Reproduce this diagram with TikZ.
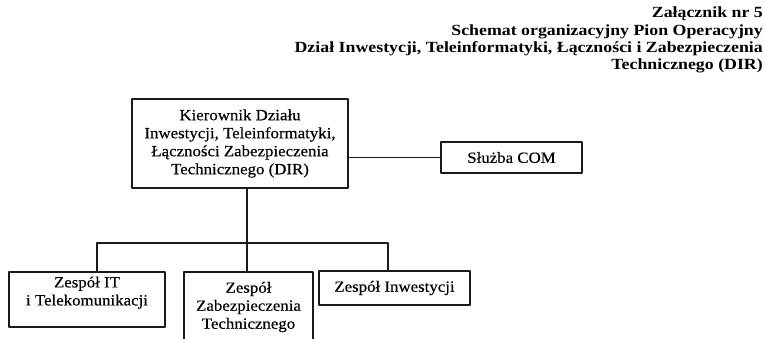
\documentclass[tikz,border=0pt]{standalone}
\usepackage{fontspec}
\setmainfont{Liberation Serif}
\newfontfamily\boxfont[FakeBold=0.3,FakeStretch=1.08]{Liberation Serif}
\newfontfamily\headfont[FakeStretch=1.15]{Liberation Serif}
\usetikzlibrary{calc,positioning}
\definecolor{border}{HTML}{1A1A1A}
\tikzset{
  UnitBox/.style={
    draw=border, line width=1.5pt,
    align=center, inner sep=2pt,
    font=\boxfont\fontsize{15.6}{18}\selectfont
  },
  OrgLine/.style={draw=border, line width=1.2pt}
}

\begin{document}
\begin{tikzpicture}[x=1pt, y=-1pt, line cap=round, line join=round]
  \useasboundingbox (0,0) rectangle (765,338);

  % header, right aligned
  \node[anchor=north east, align=right, inner sep=0pt,
        font=\headfont\bfseries\fontsize{15.5}{17.3}\selectfont] (title) at (763,7)
    {Załącznik nr 5\\ Schemat organizacyjny Pion Operacyjny\\
     Dział Inwestycji, Teleinformatyki, Łączności i Zabezpieczenia\\
     Technicznego (DIR)};

  % head of the department and the service beside it
  \node[UnitBox, minimum width=216, minimum height=89] (head) at (240,143.5)
    {Kierownik Działu\\ Inwestycji, Teleinformatyki,\\ Łączności Zabezpieczenia\\ Technicznego (DIR)};
  \node[UnitBox, minimum width=141, minimum height=31] (com) at (511.5,157.5) {Służba COM};

  % teams
  \node[UnitBox, minimum width=156, minimum height=55] (teamit) at (87,299.5)
    {Zespół IT\\ i Telekomunikacji\\[-1pt]\mbox{}};
  \node[UnitBox, minimum width=129, minimum height=70] (teamzt) at (248.5,307)
    {Zespół\\ Zabezpieczenia\\ Technicznego};
  \node[UnitBox, minimum width=151, minimum height=34] (teaminw) at (394.5,288)
    {Zespół Inwestycji};

  % connectors
  \coordinate (bus) at (247,243);
  \coordinate (busL) at (97,243);
  \coordinate (busR) at (388,243);
  \draw[OrgLine] (com.west) -- (com.west -| head.east);
  \draw[OrgLine] (head.south -| bus) -- (bus);
  \draw[OrgLine] (teamit.north -| busL) -- (busL) -- (busR) -- (teaminw.north -| busR);
  \draw[OrgLine] (bus) -- (teamzt.north -| bus);
\end{tikzpicture}
\end{document}
